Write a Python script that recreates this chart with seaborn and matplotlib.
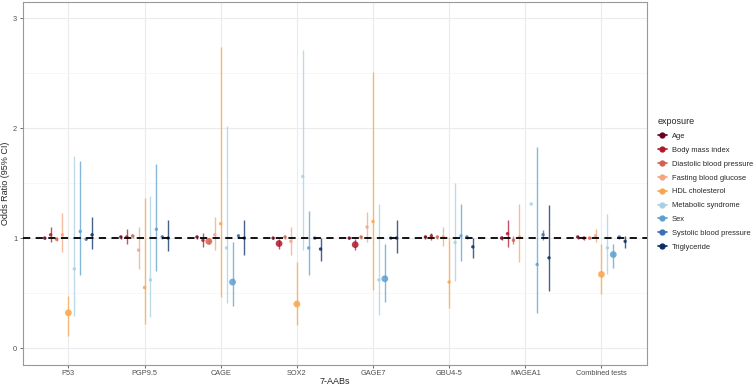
import numpy as np
import pandas as pd
import matplotlib
matplotlib.use("Agg")
import matplotlib.pyplot as plt
from matplotlib.lines import Line2D
import seaborn as sns

# data
markers = ["P53", "PGP9.5", "CAGE", "SOX2", "GAGE7", "GBU4-5", "MAGEA1", "Combined tests"]
exposures = ["Age", "Body mass index", "Diastolic blood pressure", "Fasting blood glucose",
             "HDL cholesterol", "Metabolic syndrome", "Sex", "Systolic blood pressure", "Triglyceride"]
colors = ["#67001F", "#B2182B", "#D6604D", "#F4A582", "#F9A64A",
          "#A6D0E4", "#5E9FCF", "#3A6FB5", "#0B2F63"]

# odds ratios, one row per marker, columns in exposure order
odds = [
    [1.00, 1.03, 0.99, 1.03, 0.32, 0.72, 1.06, 0.99, 1.03],
    [1.01, 1.01, 1.02, 0.89, 0.55, 0.62, 1.08, 1.01, 1.00],
    [1.01, 0.98, 0.97, 1.03, 1.13, 0.91, 0.60, 1.02, 1.00],
    [1.00, 0.95, 1.01, 0.97, 0.40, 1.56, 0.91, 1.00, 0.90],
    [1.00, 0.94, 1.01, 1.10, 1.15, 0.62, 0.63, 1.00, 1.00],
    [1.01, 1.02, 1.01, 1.01, 0.60, 0.96, 1.02, 1.01, 0.92],
    [1.00, 1.04, 0.98, 1.01, np.nan, 1.31, 0.76, 1.03, 0.82],
    [1.01, 1.00, 1.00, 1.02, 0.67, 0.91, 0.85, 1.01, 0.97],
]
lower = [
    [0.99, 0.96, 0.97, 0.87, 0.11, 0.29, 0.66, 0.98, 0.90],
    [0.99, 0.95, 1.00, 0.72, 0.22, 0.28, 0.70, 0.99, 0.88],
    [0.99, 0.92, 0.95, 0.89, 0.46, 0.41, 0.38, 1.00, 0.85],
    [0.99, 0.90, 0.99, 0.85, 0.21, 0.89, 0.66, 0.99, 0.79],
    [0.99, 0.89, 0.99, 0.96, 0.53, 0.30, 0.42, 0.99, 0.86],
    [0.99, 0.98, 0.99, 0.93, 0.36, 0.61, 0.79, 0.99, 0.82],
    [0.98, 0.92, 0.95, 0.78, np.nan, np.nan, 0.32, 0.98, 0.52],
    [0.99, 0.98, 0.99, 0.96, 0.49, 0.67, 0.73, 0.99, 0.91],
]
upper = [
    [1.01, 1.10, 1.01, 1.23, 0.47, 1.75, 1.70, 1.01, 1.19],
    [1.02, 1.08, 1.03, 1.10, 1.36, 1.38, 1.67, 1.03, 1.16],
    [1.02, 1.05, 0.99, 1.19, 2.74, 2.02, 0.96, 1.04, 1.16],
    [1.01, 0.99, 1.02, 1.10, 0.78, 2.71, 1.25, 1.01, 1.00],
    [1.01, 0.99, 1.02, 1.24, 2.51, 1.31, 0.95, 1.01, 1.16],
    [1.02, 1.05, 1.02, 1.10, 1.01, 1.50, 1.31, 1.02, 1.00],
    [1.02, 1.16, 1.02, 1.31, np.nan, np.nan, 1.83, 1.07, 1.30],
    [1.02, 1.02, 1.01, 1.08, 0.95, 1.22, 0.95, 1.02, 1.02],
]

rows = []
for i, m in enumerate(markers):
    for j, e in enumerate(exposures):
        rows.append({"marker": m, "exposure": e, "OR": odds[i][j],
                     "lo": lower[i][j], "hi": upper[i][j], "mi": i, "ej": j})
df = pd.DataFrame(rows)

# dodge like ggplot position_dodge(width = 0.7)
dw = 0.7
df["x"] = df["mi"] - dw / 2 + dw / len(exposures) * (df["ej"] + 0.5)
df["sig"] = np.where((df["hi"] < 1) | (df["lo"] > 1), "yes", "no")

sns.set_theme(style="whitegrid")
plt.rcParams["font.family"] = ["Liberation Sans", "DejaVu Sans"]

fig = plt.figure(figsize=(7.56, 3.87), dpi=100)
ax = fig.add_axes([0.03, 0.058, 0.826, 0.938])

pal = dict(zip(exposures, colors))

for _, r in df.dropna(subset=["lo"]).iterrows():
    ax.vlines(r["x"], r["lo"], r["hi"], color=pal[r["exposure"]], lw=1.0, alpha=0.75, zorder=2)

sns.scatterplot(data=df.dropna(subset=["OR"]), x="x", y="OR", hue="exposure", palette=pal,
                hue_order=exposures, size="sig", sizes={"no": 6, "yes": 24},
                edgecolor="none", alpha=0.85, legend=False, ax=ax, zorder=3)

ax.axhline(1, color="black", lw=1.3, ls=(0, (4, 3)), zorder=4)

ax.set_xlim(-0.6, len(markers) - 0.4)
ax.set_ylim(-0.15, 3.15)
ax.set_xticks(range(len(markers)))
ax.set_xticklabels(markers)
ax.set_yticks([0, 1, 2, 3])
ax.set_yticks([0.5, 1.5, 2.5], minor=True)
ax.grid(which="major", color="#EBEBEB", lw=0.8)
ax.grid(which="minor", axis="y", color="#F4F4F4", lw=0.5)
ax.tick_params(axis="both", labelsize=5.3, colors="#4D4D4D", length=2, pad=2)
ax.tick_params(axis="both", which="both", bottom=True, left=True, color="#333333", width=0.5)
ax.tick_params(axis="y", which="minor", left=False)
for s in ax.spines.values():
    s.set_color("#999999")
    s.set_linewidth(0.8)
ax.set_xlabel("7-AABs", fontsize=6.5, labelpad=0)
ax.set_ylabel("Odds Ratio (95% CI)", fontsize=6.5, labelpad=2)

handles = [Line2D([0], [0], color=c, marker="o", markersize=3.5, lw=1.2) for c in colors]
leg = fig.legend(handles, exposures, title="exposure", loc="upper left",
                 bbox_to_anchor=(0.866, 0.705), frameon=False, fontsize=5.4,
                 title_fontsize=6.5, handlelength=1.2, handletextpad=0.7,
                 labelspacing=0.88, borderaxespad=0)
leg._legend_box.align = "left"

fig.savefig("out.png", dpi=100)
